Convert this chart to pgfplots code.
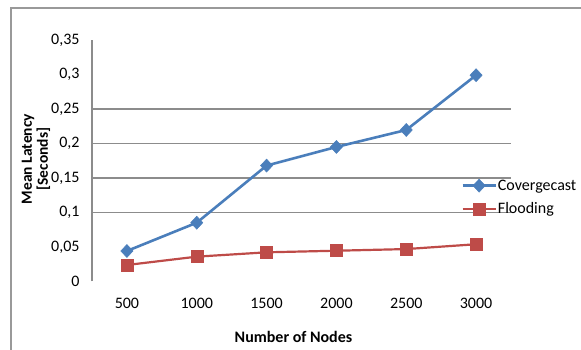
\documentclass[border=0pt]{standalone}
\usepackage{pgfplots}
\pgfplotsset{compat=1.18}
\usepackage{fontspec}
\setmainfont{Carlito}
\definecolor{cblue}{HTML}{4A7EBB}
\definecolor{cred}{HTML}{BE4B48}
\definecolor{grid}{HTML}{8C8C8C}
\begin{document}
\begin{tikzpicture}[x=1pt,y=1pt]
\path[use as bounding box] (0,0) rectangle (581,350);
\draw[line width=2pt, color=gray!80] (11,0) -- (11,342) -- (581,342);
\begin{axis}[
  at={(92pt,68.5pt)}, anchor=south west,
  scale only axis, width=419pt, height=241.5pt,
  xmin=250, xmax=3250, ymin=0, ymax=0.35,
  axis x line*=bottom,
  x axis line style={draw=none},
  axis y line*=left,
  y axis line style={draw=grid, line width=1.2pt, -},
  xtick={500,1000,1500,2000,2500,3000},
  xticklabels={500,1000,1500,2000,2500,3000},
  ytick={0,0.05,0.1,0.15,0.2,0.25,0.3,0.35},
  yticklabels={0,{0,05},{0,1},{0,15},{0,2},{0,25},{0,3},{0,35}},
  major tick length=0pt,
  tick style={draw=none},
  ticklabel style={font=\fontsize{16}{18}\selectfont},
  yticklabel style={xshift=-9pt},
  xticklabel style={yshift=-13pt},
  extra y ticks={0.1,0.15,0.2,0.25},
  extra y tick labels={},
  extra y tick style={grid=major, major grid style={draw=grid, line width=1.3pt}},
  clip=false,
  legend style={at={(0.881,0.348)}, anchor=west, draw=none, fill=none,
    inner sep=0pt, row sep=9pt, nodes={inner sep=1pt, font=\fontsize{16}{18}\selectfont}},
  legend cell align=left,
  legend image code/.code={\draw[mark repeat=2,mark phase=2,#1] plot coordinates {(0pt,0pt)(16.5pt,0pt)(33pt,0pt)};},
]
\addplot[color=cblue, line width=2.6pt, mark=diamond*, mark size=6.5pt, mark options={solid, line width=0.5pt, xscale=1.25}]
  coordinates {(500,0.0442) (1000,0.0852) (1500,0.168) (2000,0.195) (2500,0.2196) (3000,0.299)};
\addlegendentry{Covergecast}
\addplot[color=cred, line width=2.2pt, mark=square*, mark size=6pt, mark options={solid, line width=0.5pt}]
  coordinates {(500,0.0239) (1000,0.036) (1500,0.0423) (2000,0.0446) (2500,0.047) (3000,0.054)};
\addlegendentry{Flooding}
\end{axis}
\node[rotate=90, align=center, font=\bfseries\fontsize{15.5}{16}\selectfont] at (36,191) {Mean Latency\\{[}Seconds{]}};
\node[font=\bfseries\fontsize{16}{18}\selectfont] at (293.5,13) {Number of Nodes};
\end{tikzpicture}
\end{document}
